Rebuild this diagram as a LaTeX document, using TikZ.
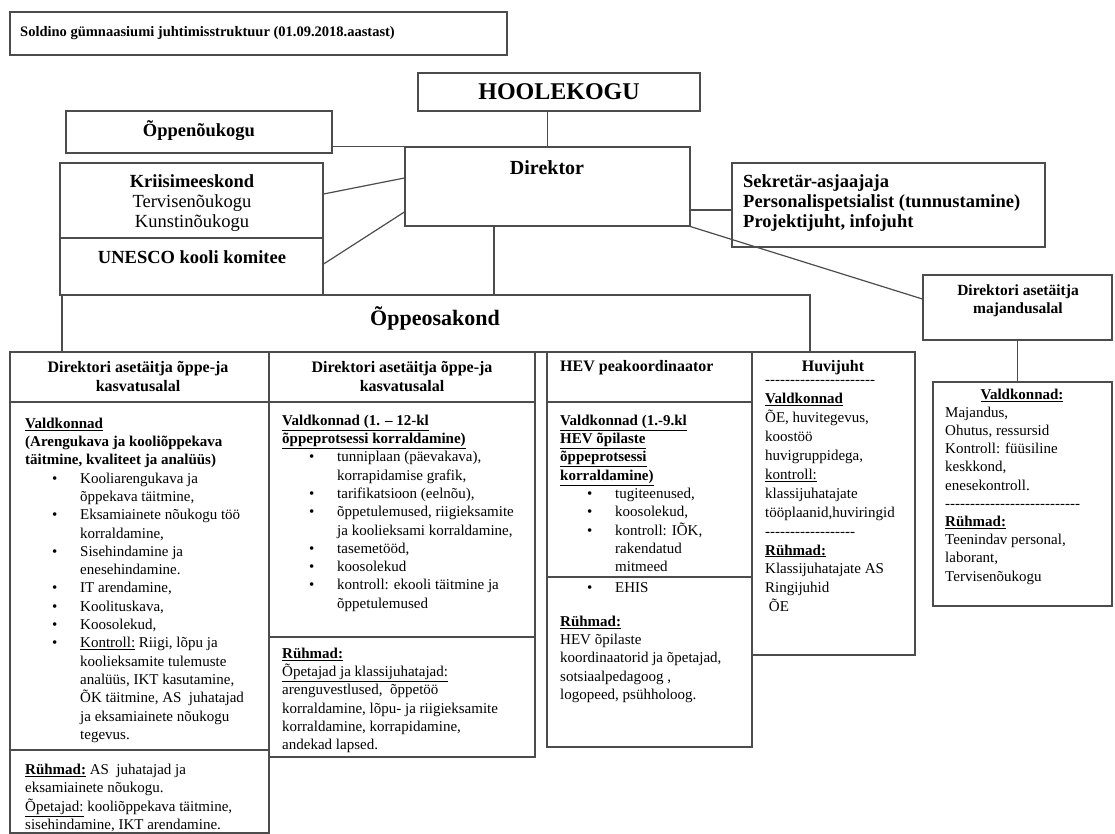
\documentclass[tikz,border=0pt]{standalone}
\usepackage{fontspec}
\setmainfont{Liberation Serif}
\usetikzlibrary{fit}
\newcommand\fz[2]{\fontsize{#1}{#2}\selectfont}
\newcommand\bul{\hspace*{27pt}\makebox[28pt][l]{•}}
\newcommand\indt{\hspace*{55pt}}
\newcommand\undl[1]{\underline{#1}}
\newcount\hycnt
\newcommand\hyrow[1]{\hycnt=0 \loop\ifnum\hycnt<#1 -\kern0pt\advance\hycnt by 1 \repeat}
\tikzset{
  box/.style={draw=black!70, line width=1.2pt, inner sep=0pt},
  conn/.style={draw=black!70, line width=1.2pt},
  body/.style={inner sep=0pt, align=left, anchor=north west, font=\fz{15}{18.3}},
  head/.style={inner sep=0pt, align=center, font=\fz{16}{19}\bfseries},
}
\begin{document}
\begin{tikzpicture}[x=1pt,y=-1pt]
\useasboundingbox (0,0) rectangle (1115,834);
% boxes
\node[box, fit={(10,12)(507,55)}] (title) {};
\node[box, fit={(418,73)(700,111)}] (hoole) {};
\node[box, fit={(66,111)(332,153)}] (opn) {};
\node[box, fit={(405,147)(690,226)}] (dir) {};
\node[box, fit={(60,163)(323,238)}] (kri) {};
\node[box, fit={(60,238)(323,295)}] (une) {};
\node[box, fit={(62,295)(810,352)}] (opo) {};
\node[box, fit={(732,163)(1045,247)}] (sek) {};
\node[box, fit={(923,275)(1112,340)}] (maj) {};
\node[box, fit={(933,382)(1112,606)}] (rb) {};
\node[box, fit={(10,352)(269,402)}] (c1h) {};
\node[box, fit={(10,402)(269,750)}] (c1b) {};
\node[box, fit={(10,750)(269,833)}] (c1r) {};
\node[box, fit={(269,352)(535,402)}] (c2h) {};
\node[box, fit={(269,402)(535,637)}] (c2b) {};
\node[box, fit={(269,637)(535,757)}] (c2r) {};
\node[box, fit={(547,352)(752,402)}] (c3h) {};
\node[box, fit={(547,402)(752,577)}] (c3b) {};
\node[box, fit={(547,577)(752,747)}] (c3r) {};
\node[box, fit={(752,352)(915,655)}] (c4) {};
% connectors
\draw[conn] (dir.north) -- (dir.north |- hoole.south);
\draw[conn] (opn.east |- dir.north west) -- (dir.north west);
\draw[conn] ([yshift=6.5pt]kri.east) -- ([yshift=8.5pt]dir.west);
\draw[conn] ([yshift=2.5pt]une.east) -- ([yshift=-25.5pt]dir.west);
\draw[conn] ([yshift=-23.5pt]dir.east) -- ([yshift=-23.5pt]dir.east -| sek.west);
\draw[conn] (dir.south east) -- ([yshift=8.5pt]maj.west);
\draw[conn] ([xshift=-53.5pt]dir.south) -- ([xshift=-53.5pt]dir.south |- opo.north);
\draw[conn] (maj.south) -- (maj.south |- rb.north);
% top texts
\node[inner sep=0pt, anchor=west, font=\fz{14.5}{18}\bfseries] (titleT) at (20,33) {Soldino gümnaasiumi juhtimisstruktuur (01.09.2018.aastast)};
\node[inner sep=0pt, font=\fz{24}{28}\bfseries] (hooleT) at (559,92) {HOOLEKOGU};
\node[inner sep=0pt, font=\fz{18.5}{22}\bfseries] (opnT) at (199,131) {Õppenõukogu};
\node[inner sep=0pt, font=\fz{20}{24}\bfseries] (dirT) at (547,168) {Direktor};
\node[inner sep=0pt, align=center, anchor=north, font=\fz{18.5}{20}] (kriT) at (192,174) {\textbf{Kriisimeeskond}\\Tervisenõukogu\\Kunstinõukogu};
\node[inner sep=0pt, font=\fz{18.5}{22}\bfseries] (uneT) at (192,257) {UNESCO kooli komitee};
\node[inner sep=0pt, font=\fz{22}{26}\bfseries] (opoT) at (435,318) {Õppeosakond};
\node[inner sep=0pt, align=left, anchor=north west, font=\fz{18.5}{20}\bfseries] (sekT) at (743,174) {Sekretär-asjaajaja\\Personalispetsialist (tunnustamine)\\Projektijuht, infojuht};
\node[head, font=\fz{15.5}{18}\bfseries] (majT) at (1018,301) {Direktori asetäitja\\majandusalal};
% column headers
\node[head] (c1hT) at (138,377) {Direktori asetäitja õppe-ja\\kasvatusalal};
\node[head] (c2hT) at (402,377) {Direktori asetäitja õppe-ja\\kasvatusalal};
\node[head, anchor=west] (c3hT) at (560,368) {HEV peakoordinaator};
\node[head] (c4hT) at (833,368) {Huvijuht};
% column 1
\node[body] (c1T) at (25,417.6) {\textbf{\undl{Valdkonnad}}\\
\textbf{(Arengukava ja kooliõppekava}\\
\textbf{täitmine, kvaliteet ja analüüs)}\\
\bul Kooliarengukava ja\\
\indt õppekava täitmine,\\
\bul Eksamiainete nõukogu töö\\
\indt korraldamine,\\
\bul Sisehindamine ja\\
\indt enesehindamine.\\
\bul IT arendamine,\\
\bul Koolituskava,\\
\bul Koosolekud,\\
\bul \undl{Kontroll:} Riigi, lõpu ja\\
\indt koolieksamite tulemuste\\
\indt analüüs, IKT kasutamine,\\
\indt ÕK täitmine, AS~ juhatajad\\
\indt ja eksamiainete nõukogu\\
\indt tegevus.};
\node[body] (c1R) at (25,764) {\textbf{\undl{Rühmad:}} AS~ juhatajad ja\\
eksamiainete nõukogu.\\
\undl{Õpetajad:} kooliõppekava täitmine,\\
sisehindamine, IKT arendamine.};
% column 2
\node[body] (c2T) at (282,414.6) {\textbf{\undl{Valdkonnad (1. – 12-kl}}\\
\textbf{\undl{õppeprotsessi korraldamine)}}\\
\bul tunniplaan (päevakava),\\
\indt korrapidamise grafik,\\
\bul tarifikatsioon (eelnõu),\\
\bul õppetulemused, riigieksamite\\
\indt ja koolieksami korraldamine,\\
\bul tasemetööd,\\
\bul koosolekud\\
\bul kontroll: ekooli täitmine ja\\
\indt õppetulemused};
\node[body] (c2R) at (282,647.6) {\textbf{\undl{Rühmad:}}\\
\undl{Õpetajad ja klassijuhatajad:}\\
arenguvestlused,~ õppetöö\\
korraldamine, lõpu- ja riigieksamite\\
korraldamine, korrapidamine,\\
andekad lapsed.};
% column 3
\node[body] (c3T) at (560,414.6) {\textbf{\undl{Valdkonnad (1.-9.kl}}\\
\textbf{\undl{HEV õpilaste}}\\
\textbf{\undl{õppeprotsessi}}\\
\textbf{\undl{korraldamine)}}\\
\bul tugiteenused,\\
\bul koosolekud,\\
\bul kontroll: IÕK,\\
\indt rakendatud\\
\indt mitmeed};
\node[body] (c3E) at (560,582.6) {\bul EHIS};
\node[body] (c3R) at (560,615.6) {\textbf{\undl{Rühmad:}}\\
HEV õpilaste\\
koordinaatorid ja õpetajad,\\
sotsiaalpedagoog ,\\
logopeed, psühholoog.};
% column 4
\node[body, font=\fz{15}{18.9}] (c4T) at (765,380.6) {\hyrow{22}\\
\textbf{\undl{Valdkonnad}}\\
ÕE, huvitegevus,\\
koostöö\\
huvigruppidega,\\
\undl{kontroll:}\\
klassijuhatajate\\
tööplaanid,huviringid\\
\hyrow{18}\\
\textbf{\undl{Rühmad:}}\\
Klassijuhatajate AS\\
Ringijuhid\\
\ ÕE};
% right box
\node[inner sep=0pt, font=\fz{15}{18.3}\bfseries] (rbH) at (1022,395) {\undl{Valdkonnad:}};
\node[body, font=\fz{15}{18.2}] (rbT) at (945,406.6) {Majandus,\\
Ohutus, ressursid\\
Kontroll: füüsiline\\
keskkond,\\
enesekontroll.\\
\hyrow{27}\\
\textbf{\undl{Rühmad:}}\\
Teenindav personal,\\
laborant,\\
Tervisenõukogu};
\end{tikzpicture}
\end{document}
